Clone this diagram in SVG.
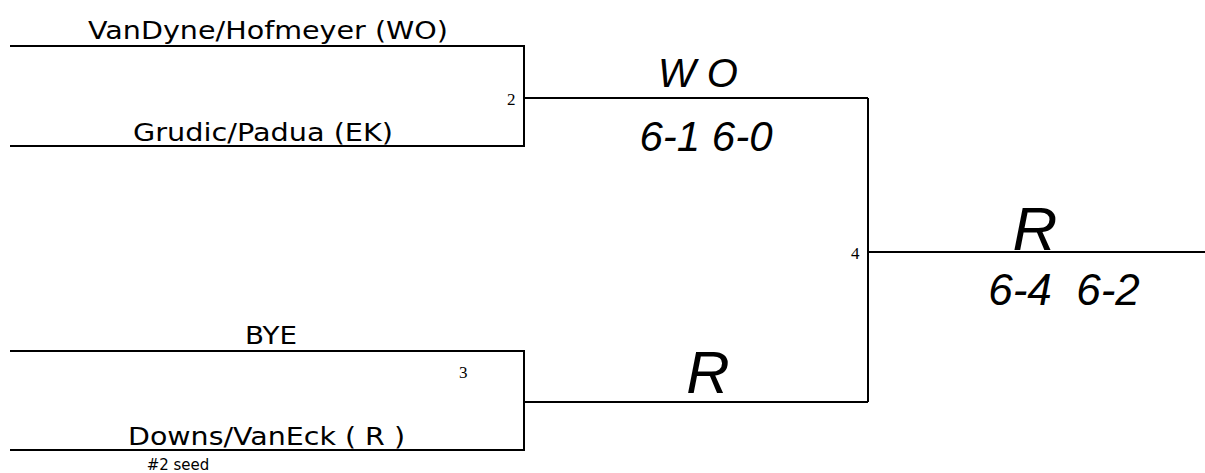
<svg xmlns="http://www.w3.org/2000/svg" width="1205" height="473" viewBox="0 0 1205 473">
<style>
.ln{stroke:#000;stroke-width:2;fill:none}
.lbl{font-family:"DejaVu Sans","Liberation Sans",sans-serif;font-size:25px;fill:#000}
.num{font-family:"Liberation Serif",serif;font-size:17px;fill:#000}
.small{font-family:"DejaVu Sans","Liberation Sans",sans-serif;font-size:15px;fill:#000}
.hand{font-family:"Liberation Sans",sans-serif;font-style:italic;fill:#000}
</style>
<rect width="1205" height="473" fill="#fff"/>
<g id="connectors">
<path class="ln" d="M10,46 H524 V146 H10"/>
<path class="ln" d="M524,98 H868"/>
<path class="ln" d="M10,351 H524 V450 H10"/>
<path class="ln" d="M524,402 H868"/>
<path class="ln" d="M868,98 V402"/>
<path class="ln" d="M868,252 H1205"/>
</g>
<g id="team1"><text class="lbl" x="88" y="39" textLength="360" lengthAdjust="spacingAndGlyphs">VanDyne/Hofmeyer (WO)</text></g>
<g id="team2"><text class="lbl" x="133" y="141" textLength="260" lengthAdjust="spacingAndGlyphs">Grudic/Padua (EK)</text></g>
<g id="team3"><text class="lbl" x="245" y="344" textLength="52" lengthAdjust="spacingAndGlyphs">BYE</text></g>
<g id="team4"><text class="lbl" x="128" y="445" textLength="277" lengthAdjust="spacingAndGlyphs">Downs/VanEck ( R )</text>
<text class="small" x="178" y="470" text-anchor="middle">#2 seed</text></g>
<g id="match2"><text class="num" x="507" y="105">2</text></g>
<g id="match3"><text class="num" x="459" y="378">3</text></g>
<g id="match4"><text class="num" x="851" y="259">4</text></g>
<g id="winner-top">
<text class="hand" x="698" y="87" font-size="40" text-anchor="middle">W O</text>
<text class="hand" x="706" y="151" font-size="42" text-anchor="middle">6-1 6-0</text>
</g>
<g id="winner-bottom"><text class="hand" x="708" y="393" font-size="60" text-anchor="middle">R</text></g>
<g id="winner-final">
<text class="hand" x="1035" y="250" font-size="62" text-anchor="middle">R</text>
<text class="hand" x="1064" y="305" font-size="44" text-anchor="middle" xml:space="preserve">6-4  6-2</text>
</g>
</svg>
